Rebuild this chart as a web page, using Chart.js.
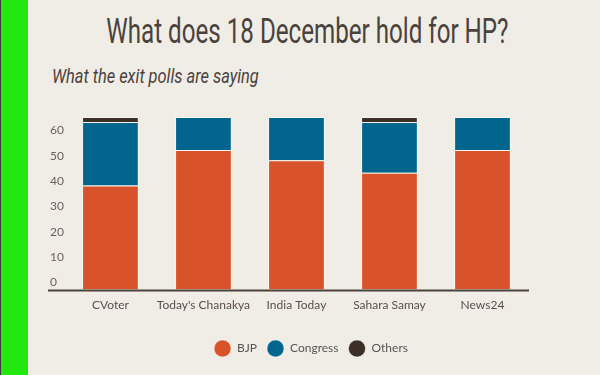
<!DOCTYPE html>
<html lang="en">
<head>
    <meta charset="UTF-8">
    <title>What does 18 December hold for HP?</title>
    <script src="https://cdn.jsdelivr.net/npm/chart.js"></script>
    <style>
        body { margin: 0; background: #f0ede6; width: 600px; height: 375px; overflow: hidden; position: relative; font-family: 'Lato', sans-serif; }
        .strip { position: absolute; left: 0; top: 0; width: 27px; height: 375px; background: #22e80f; border-left: 1px solid #3a3a3a; }
        .title { position: absolute; left: 0; width: 614px; top: 11px; text-align: center; font-family: 'Roboto', sans-serif; font-weight: 400; font-size: 35px; color: #4a423c; white-space: nowrap; }
        .title span { display: inline-block; transform: scaleX(0.69); }
        .subtitle { position: absolute; left: 52px; top: 64px; font-family: 'Roboto', sans-serif; font-weight: 400; font-style: italic; font-size: 20px; color: #4a423c; white-space: nowrap; transform: scaleX(0.82); transform-origin: left center; }
        #chart { position: absolute; left: 0; top: 0; }
    </style>
</head>
<body>
<div class="strip"></div>
<div class="title"><span>What does 18 December hold for HP?</span></div>
<div class="subtitle">What the exit polls are saying</div>
<canvas id="chart" width="600" height="375"></canvas>

<script>
    // exit poll seat projections, HP assembly (68 seats)
    const pollsters = ['CVoter', "Today's Chanakya", 'India Today', 'Sahara Samay', 'News24'];
    const bjp = [41, 55, 51, 46, 55];
    const congress = [25, 13, 17, 20, 13];
    const others = [2, 0, 0, 2, 0];
    const yTicks = [0, 10, 20, 30, 40, 50, 60];

    // axis line under the bars, running under the y labels too
    const baseLine = {
        id: 'baseLine',
        afterDatasetsDraw(chart) {
            const { ctx, chartArea, scales: { y } } = chart;
            const yy = y.getPixelForValue(0) + 1;
            ctx.save();
            ctx.strokeStyle = '#4a423b';
            ctx.lineWidth = 2;
            ctx.beginPath();
            ctx.moveTo(y.left - 2, yy);
            ctx.lineTo(chartArea.right, yy);
            ctx.stroke();
            ctx.restore();
        }
    };

    const bar = (label, data, color) => ({
        label, data,
        backgroundColor: color,
        borderColor: 'rgba(255,255,255,0.45)',
        borderWidth: 1,
        barPercentage: 0.61,
        categoryPercentage: 1
    });

    new Chart(document.getElementById('chart'), {
        type: 'bar',
        data: {
            labels: pollsters,
            datasets: [
                bar('BJP', bjp, '#d9532a'),
                bar('Congress', congress, '#02658e'),
                bar('Others', others, '#3a3028')
            ]
        },
        options: {
            responsive: false,
            animation: false,
            layout: { padding: { left: 50, right: 28, top: 117, bottom: 8 } },
            scales: {
                x: {
                    stacked: true,
                    afterFit(scale) { scale.height += 10; },
                    grid: { display: false, drawTicks: false },
                    border: { display: false },
                    ticks: { color: '#5a5048', font: { family: 'Lato', size: 12 }, padding: 8, maxRotation: 0, autoSkip: false }
                },
                y: {
                    stacked: true,
                    min: 0, max: 68,
                    afterBuildTicks(scale) { scale.ticks = yTicks.map(v => ({ value: v })); },
                    grid: { display: false, drawTicks: false },
                    border: { display: false },
                    ticks: { color: '#6d5f55', font: { family: 'Lato', size: 12 }, crossAlign: 'far', labelOffset: -7, padding: 0 }
                },
                // empty right-hand gutter so the legend centres like the original
                gutter: {
                    type: 'linear',
                    position: 'right',
                    afterFit(scale) { scale.width = 43; },
                    grid: { display: false, drawTicks: false },
                    border: { display: false },
                    ticks: { display: false }
                }
            },
            plugins: {
                legend: {
                    position: 'bottom',
                    labels: {
                        color: '#555',
                        font: { family: 'Lato', size: 12 },
                        boxWidth: 17, boxHeight: 17,
                        useBorderRadius: true, borderRadius: 8.5,
                        padding: 10
                    }
                },
                tooltip: { enabled: false }
            }
        },
        plugins: [baseLine]
    });
</script>
</body>
</html>
